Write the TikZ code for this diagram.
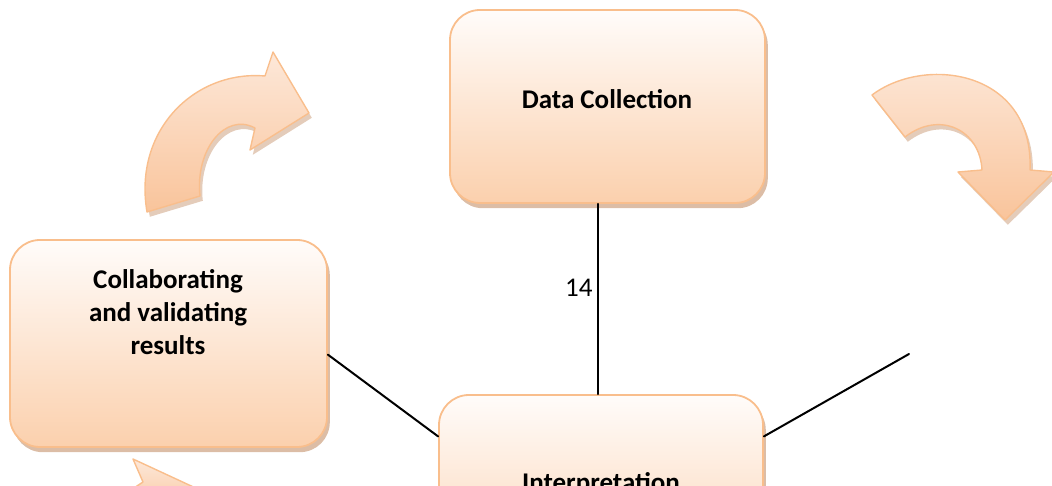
\documentclass[tikz,border=0pt]{standalone}
\usepackage{fontspec}
\setmainfont{Carlito}
\usetikzlibrary{shadows}

\definecolor{peachline}{HTML}{F9BE8C}
\definecolor{peachtop}{HTML}{FFFCFA}
\definecolor{peachbot}{HTML}{FBD0AD}
\definecolor{arrowtop}{HTML}{FDE8D9}
\definecolor{arrowbot}{HTML}{F9C49B}
\definecolor{shadowtan}{HTML}{C99A76}

\tikzset{
  boxnode/.style={draw=peachline, line width=0.45mm, rounded corners=7.5mm,
    top color=peachtop, bottom color=peachbot, inner sep=0pt,
    drop shadow={shadow xshift=0.7mm, shadow yshift=-1.3mm, fill=shadowtan, opacity=0.65}},
  boxtext/.style={font=\fontsize{19.2}{23.4}\selectfont\bfseries, align=center, inner sep=0pt},
  flowarrow/.style={draw=peachline, line width=0.35mm, line join=round,
    top color=arrowtop, bottom color=arrowbot,
    drop shadow={shadow xshift=0.7mm, shadow yshift=-1.2mm, fill=shadowtan, opacity=0.5}},
  link/.style={line width=0.5mm, black},
}

\begin{document}
\begin{tikzpicture}[line cap=round,line join=round,x=0.25mm,y=-0.25mm]
\useasboundingbox (0,0) rectangle (1052,486);
\clip (0,0) rectangle (1052,486);

% curved arrows
\path[flowarrow] (147,212) .. controls (133,130) and (195,70) .. (265,76) -- (273,52) -- (309,113) -- (250,150) -- (255,128) .. controls (225,112) and (195,150) .. (200,196) -- cycle;
\path[flowarrow] (872,95) .. controls (925,55) and (1034,70) .. (1030,170) -- (1054,172) -- (1005,220) -- (958,172) -- (982,170) .. controls (980,130) and (940,110) .. (905,137) -- cycle;
\path[flowarrow] (133,459) -- (215,497) -- (180,515) -- (128,492) -- (143,482) -- cycle;

% boxes
\node[boxnode, minimum width=78.75mm, minimum height=48.25mm] (data) at (607.5,106.5) {};
\node[boxnode, minimum width=79.25mm, minimum height=51.75mm] (collab) at (168.5,343.5) {};
\node[boxnode, minimum width=81mm, minimum height=48.75mm] (interp) at (601,492.5) {};

\node[boxtext] (dataTxt) at (607,99) {Data Collection};
\node[boxtext] (collabTxt) at (168,312) {Collaborating\\and validating\\results};
\node[boxtext, anchor=base] (interpTxt) at (601,491) {Interpretation};

% links
\coordinate (freeEnd) at (909,354);
\draw[link] ([xshift=-2.5mm]data.south) -- node[pos=0.44, left, inner sep=1mm, font=\fontsize{19.2}{23.4}\selectfont] (lbl) {14} ([xshift=-2.5mm]data.south |- interp.north);
\draw[link] (collab.-4) -- (interp.161);
\draw[link] (interp.19) -- (freeEnd);
\end{tikzpicture}
\end{document}
